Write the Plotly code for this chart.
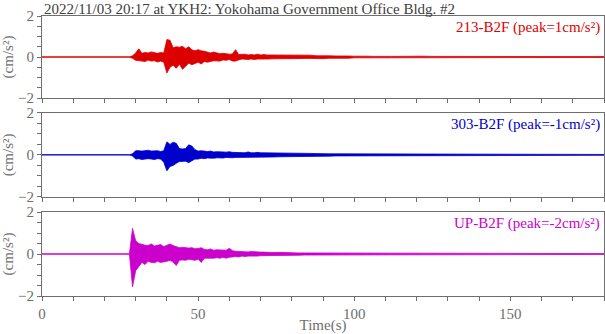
import numpy as np
import plotly.graph_objects as go
from plotly.subplots import make_subplots

# envelope of each record (cm/s^2)
# quiet part: every 2 s from 0 s; strong motion: every 1 s from 29 s; coda: every 2 s from 74 s
quiet_t0, quiet_dt = 0.0, 2.0
strong_t0, strong_dt = 29.0, 1.0
coda_t0, coda_dt = 74.0, 2.0

quiet_up = [0.01, 0.01, 0.01, 0.01, 0.01, 0.01, 0.01, 0.01, 0.01, 0.01, 0.01, 0.01, 0.01, 0.01, 0.01]
quiet_lo = [-0.01, -0.01, -0.01, -0.01, -0.01, -0.01, -0.01, -0.01, -0.01, -0.01, -0.01, -0.01, -0.01, -0.01, -0.01]

red_up = [0.06, 0.2, 0.4, 0.18, 0.22, 0.2, 0.25, 0.2, 0.18, 0.22, 0.2, 0.85, 0.82, 0.45, 0.5, 0.48,
          0.52, 0.4, 0.5, 0.35, 0.3, 0.36, 0.3, 0.28, 0.25, 0.2, 0.24, 0.2, 0.16, 0.18, 0.15, 0.14,
          0.15, 0.36, 0.12, 0.12, 0.14, 0.1, 0.12, 0.1, 0.14, 0.1, 0.12, 0.1]
red_lo = [-0.06, -0.16, -0.18, -0.2, -0.22, -0.15, -0.2, -0.18, -0.24, -0.2, -0.25, -0.78, -0.5, -0.4, -0.55, -0.35,
          -0.6, -0.45, -0.3, -0.38, -0.32, -0.25, -0.34, -0.22, -0.25, -0.22, -0.18, -0.2, -0.2, -0.14, -0.16, -0.12,
          -0.2, -0.2, -0.14, -0.1, -0.12, -0.12, -0.1, -0.12, -0.1, -0.08, -0.1, -0.1]
red_coda_up = [0.1, 0.09, 0.08, 0.1, 0.08, 0.07, 0.09, 0.06, 0.07, 0.06, 0.05, 0.06, 0.05, 0.04, 0.05, 0.04,
               0.03, 0.04, 0.04, 0.03, 0.03, 0.04, 0.03, 0.03, 0.04, 0.03, 0.03, 0.03, 0.02, 0.03, 0.03, 0.02,
               0.03, 0.03, 0.02, 0.03, 0.03, 0.02, 0.02, 0.03, 0.02, 0.02, 0.03, 0.02, 0.02, 0.02, 0.02, 0.03,
               0.02, 0.02, 0.02, 0.02, 0.02, 0.02]
red_coda_lo = [-0.09, -0.1, -0.08, -0.08, -0.09, -0.07, -0.07, -0.06, -0.08, -0.06, -0.05, -0.05, -0.06, -0.04, -0.04, -0.05,
               -0.03, -0.04, -0.03, -0.04, -0.03, -0.03, -0.04, -0.03, -0.03, -0.03, -0.02, -0.03, -0.03, -0.02, -0.03, -0.02,
               -0.03, -0.02, -0.03, -0.02, -0.02, -0.03, -0.02, -0.02, -0.03, -0.02, -0.02, -0.02, -0.03, -0.02, -0.02, -0.02,
               -0.02, -0.02, -0.02, -0.02, -0.02, -0.02]

blue_up = [0.05, 0.2, 0.2, 0.18, 0.2, 0.22, 0.18, 0.2, 0.2, 0.16, 0.2, 0.62, 0.5, 0.6, 0.55, 0.3,
           0.28, 0.3, 0.48, 0.42, 0.25, 0.18, 0.2, 0.18, 0.16, 0.18, 0.14, 0.15, 0.16, 0.14, 0.13, 0.15,
           0.12, 0.12, 0.13, 0.12, 0.1, 0.14, 0.1, 0.1, 0.12, 0.1, 0.1, 0.1]
blue_lo = [-0.05, -0.2, -0.18, -0.22, -0.2, -0.18, -0.2, -0.22, -0.18, -0.2, -0.35, -0.76, -0.55, -0.5, -0.4, -0.32,
           -0.3, -0.3, -0.37, -0.28, -0.2, -0.2, -0.16, -0.18, -0.15, -0.15, -0.16, -0.14, -0.13, -0.15, -0.12, -0.12,
           -0.14, -0.12, -0.1, -0.12, -0.12, -0.1, -0.12, -0.1, -0.1, -0.1, -0.09, -0.1]
blue_coda_up = [0.08, 0.1, 0.09, 0.08, 0.07, 0.08, 0.07, 0.06, 0.07, 0.05, 0.05, 0.05, 0.04, 0.05, 0.04, 0.04,
                0.04, 0.04, 0.03, 0.04, 0.03, 0.03, 0.03, 0.03, 0.03, 0.03, 0.03, 0.03, 0.02, 0.03, 0.02, 0.02,
                0.03, 0.02, 0.02, 0.02, 0.03, 0.02, 0.02, 0.02, 0.02, 0.02, 0.02, 0.02, 0.02, 0.02, 0.02, 0.02,
                0.02, 0.02, 0.02, 0.02, 0.02, 0.02]
blue_coda_lo = [-0.1, -0.09, -0.08, -0.08, -0.08, -0.07, -0.06, -0.06, -0.06, -0.06, -0.05, -0.04, -0.05, -0.04, -0.04, -0.04,
                -0.04, -0.03, -0.04, -0.03, -0.04, -0.03, -0.03, -0.03, -0.03, -0.03, -0.02, -0.03, -0.03, -0.02, -0.02, -0.02,
                -0.03, -0.02, -0.02, -0.02, -0.02, -0.02, -0.02, -0.02, -0.02, -0.02, -0.02, -0.02, -0.02, -0.02, -0.02, -0.02,
                -0.02, -0.02, -0.02, -0.02, -0.02, -0.02]

mag_up = [1.22, 0.63, 0.5, 0.45, 0.42, 0.4, 0.48, 0.38, 0.4, 0.45, 0.35, 0.42, 0.48, 0.4, 0.35, 0.3,
          0.32, 0.3, 0.28, 0.3, 0.25, 0.26, 0.3, 0.22, 0.2, 0.24, 0.18, 0.2, 0.2, 0.18, 0.18, 0.27,
          0.16, 0.13, 0.12, 0.12, 0.11, 0.1, 0.12, 0.1, 0.1, 0.09, 0.09, 0.08]
mag_lo = [-1.56, -0.8, -0.6, -0.4, -0.5, -0.35, -0.4, -0.42, -0.35, -0.4, -0.38, -0.35, -0.3, -0.38, -0.55, -0.3,
          -0.28, -0.3, -0.25, -0.26, -0.3, -0.25, -0.4, -0.2, -0.22, -0.2, -0.2, -0.18, -0.2, -0.16, -0.2, -0.15,
          -0.14, -0.12, -0.14, -0.1, -0.12, -0.1, -0.1, -0.09, -0.1, -0.08, -0.08, -0.08]
mag_coda_up = [0.07, 0.08, 0.06, 0.06, 0.05, 0.05, 0.05, 0.05, 0.04, 0.04, 0.04, 0.04, 0.04, 0.03, 0.03, 0.03,
               0.03, 0.03, 0.03, 0.03, 0.03, 0.02, 0.03, 0.02, 0.02, 0.02, 0.02, 0.02, 0.02, 0.02, 0.02, 0.02,
               0.02, 0.02, 0.02, 0.02, 0.02, 0.02, 0.02, 0.02, 0.02, 0.02, 0.02, 0.02, 0.02, 0.02, 0.02, 0.02,
               0.02, 0.02, 0.02, 0.02, 0.02, 0.02]
mag_coda_lo = [-0.08, -0.07, -0.07, -0.06, -0.06, -0.05, -0.05, -0.04, -0.04, -0.04, -0.04, -0.03, -0.04, -0.03, -0.03, -0.03,
               -0.03, -0.03, -0.03, -0.03, -0.02, -0.03, -0.02, -0.02, -0.02, -0.02, -0.02, -0.02, -0.02, -0.02, -0.02, -0.02,
               -0.02, -0.02, -0.02, -0.02, -0.02, -0.02, -0.02, -0.02, -0.02, -0.02, -0.02, -0.02, -0.02, -0.02, -0.02, -0.02,
               -0.02, -0.02, -0.02, -0.02, -0.02, -0.02]

channels = ["213-B2F (peak=1cm/s²)", "303-B2F (peak=-1cm/s²)", "UP-B2F (peak=-2cm/s²)"]
colors = ["#dd0000", "#0000cc", "#cc00cc"]
records = [(red_up, red_lo, red_coda_up, red_coda_lo),
           (blue_up, blue_lo, blue_coda_up, blue_coda_lo),
           (mag_up, mag_lo, mag_coda_up, mag_coda_lo)]

title = "2022/11/03 20:17 at YKH2: Yokohama Government Office Bldg. #2"

FONT = "Liberation Serif, Times New Roman, serif"
GRAY = "#6e6e6e"

fig = make_subplots(rows=3, cols=1, vertical_spacing=0.054)

for i, (up, lo, cup, clo) in enumerate(records):
    t = np.concatenate([quiet_t0 + quiet_dt * np.arange(len(quiet_up)),
                        strong_t0 + strong_dt * np.arange(len(up)),
                        coda_t0 + coda_dt * np.arange(len(cup))])
    top = np.concatenate([quiet_up, up, cup])
    bot = np.concatenate([quiet_lo, lo, clo])
    # envelope band drawn as a closed outline
    fig.add_trace(go.Scatter(x=np.concatenate([t, t[::-1]]), y=np.concatenate([top, bot[::-1]]),
                             mode="lines", fill="toself", fillcolor=colors[i],
                             line=dict(color=colors[i], width=0.8),
                             showlegend=False, hoverinfo="skip"), row=i + 1, col=1)

domains = [[0.707, 1.0], [0.354, 0.654], [0.0, 0.3]]
for i in range(3):
    r = i + 1
    fig.update_xaxes(range=[0, 180], dtick=50, ticks="outside", ticklen=4, tickcolor=GRAY,
                     showline=True, mirror=True, linecolor=GRAY, linewidth=1,
                     showgrid=False, zeroline=False, showticklabels=(r == 3), automargin=False,
                     minor=dict(dtick=10, ticks="outside", ticklen=4, tickcolor=GRAY),
                     tickfont=dict(family=FONT, size=15, color=GRAY), row=r, col=1)
    fig.update_yaxes(range=[-2, 2], dtick=2, ticks="outside", ticklen=4, tickcolor=GRAY,
                     showline=True, mirror=True, linecolor=GRAY, linewidth=1,
                     showgrid=False, zeroline=False, domain=domains[i], automargin=False,
                     minor=dict(dtick=0.5, ticks="outside", ticklen=4, tickcolor=GRAY),
                     tickfont=dict(family=FONT, size=15, color=GRAY),
                     title=dict(text="(cm/s²)", standoff=2,
                                font=dict(family=FONT, size=15, color=GRAY)),
                     row=r, col=1)
    fig.add_annotation(text=channels[i], xref="paper", yref="paper", x=0.996, y=domains[i][1] - 0.004,
                       xanchor="right", yanchor="top", showarrow=False,
                       font=dict(family=FONT, size=15, color=colors[i]))

fig.update_xaxes(title=dict(text="Time(s)", standoff=0, font=dict(family=FONT, size=15, color=GRAY)),
                 row=3, col=1)

fig.add_annotation(text=title, xref="paper", yref="paper", x=0, y=1.0, xanchor="left", yanchor="bottom",
                   yshift=-3, showarrow=False, font=dict(family=FONT, size=15, color="#404040"))

fig.update_layout(width=605, height=334, margin=dict(l=42, r=1, t=16, b=38),
                  plot_bgcolor="white", paper_bgcolor="white")

# the page body has a default margin; drop it so the figure sits at the window corner
fig.write_html("out.html", config={"displayModeBar": False},
               post_script="document.body.style.margin='0';")
